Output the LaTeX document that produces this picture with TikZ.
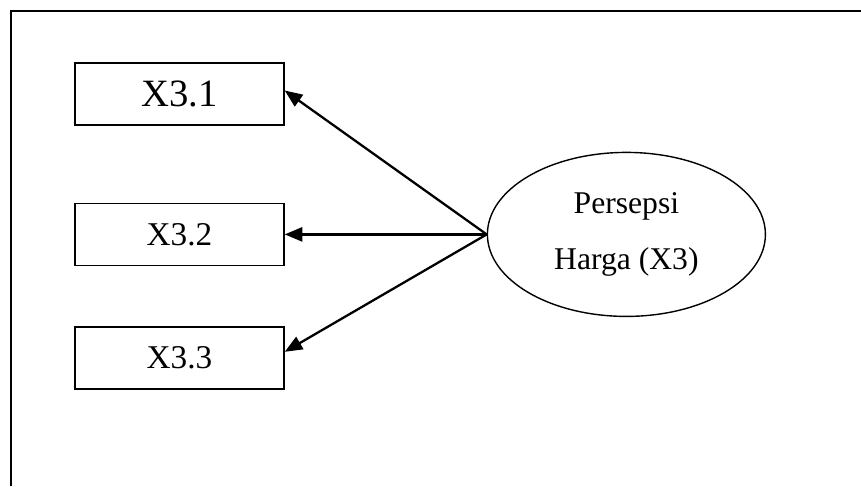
\documentclass[tikz,border=0pt]{standalone}
\usepackage{fontspec}
\setmainfont{Liberation Serif}
\usetikzlibrary{arrows.meta,positioning}
\usetikzlibrary{shapes}

\begin{document}
\begin{tikzpicture}[
	    auto,
	    indicator/.style={rectangle, draw, line width=0.8pt, minimum width=4.18cm, minimum height=1.24cm, inner sep=0pt, font=\fontsize{18.9}{22}\selectfont},
	    latent/.style={ellipse, draw, line width=0.8pt, minimum width=5.56cm, minimum height=3.28cm, inner sep=0pt, align=center, font=\fontsize{18}{32}\selectfont},
	    normalline/.style={-{Triangle[length=10pt, width=8pt]}, line width=1.3pt},
	    frameline/.style={line width=1.2pt},
	]
	\useasboundingbox (0, 0) rectangle (17.22, 9.72);

	% Frame
	\coordinate (framecorner) at (0.22, 9.50);
	\coordinate (frametop) at (17.22, 9.50);
	\coordinate (framebottom) at (0.22, 0);
	\draw [frameline] (frametop) -- (framecorner) -- (framebottom);

	% Indicators
	\node[indicator, font=\fontsize{22}{26}\selectfont] (x31) at (3.59, 7.84) {X3.1};
	\node[indicator, below=1.54cm of x31] (x32) {X3.2};
	\node[indicator, below=1.2cm of x32] (x33) {X3.3};

	% Latent variable
	\node[latent, right=4.04cm of x32] (harga) {Persepsi\\Harga (X3)};

	% connection lines
	\draw [normalline] (harga.west) -- ([yshift=0.07cm]x31.east);
	\draw [normalline] (harga.west) -- (x32.east);
	\draw [normalline] (harga.west) -- ([yshift=0.12cm]x33.east);

\end{tikzpicture}
\end{document}
